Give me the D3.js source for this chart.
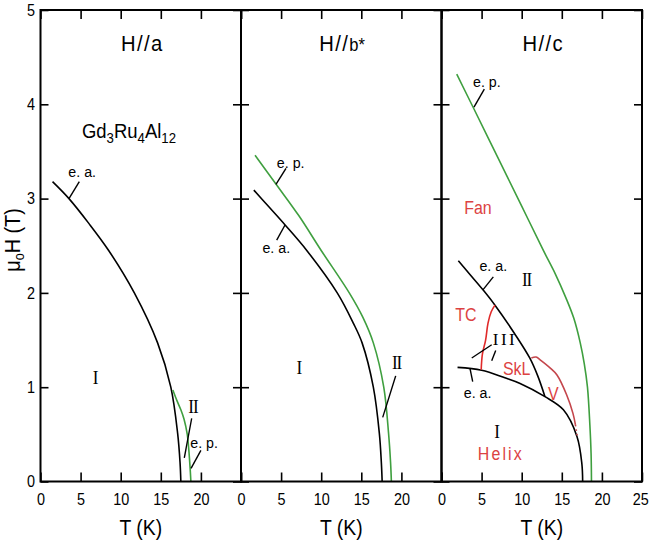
<!DOCTYPE html>
<html>
<head>
<meta charset="utf-8">
<script src="https://cdn.jsdelivr.net/npm/d3@7"></script>
<style>
  html, body { margin: 0; padding: 0; background: #fff; }
  svg { display: block; }
</style>
</head>
<body>
<svg id="chart" width="649" height="542"></svg>
<script>
// ---- axes ----
const tempTicks = [0, 5, 10, 15, 20, 25];
const fieldTicks = [0, 1, 2, 3, 4, 5];
const panelTitles = ["H//a", "H//b*", "H//c"];

// ---- H//a phase boundaries, [T (K), mu0H (T)] ----
const aEasyAxis = [[1.5,3.18],[3.55,3.0],[6.0,2.74],[8.5,2.45],[11.7,2.0],[14.6,1.47],[16.25,1.0],[17.1,0.51],[17.4,0.2],[17.5,0]];
const aEdgePoint = [[16.5,0.97],[17.0,0.86],[17.5,0.76],[17.9,0.66],[18.3,0.5],[18.46,0.37],[18.65,0.15],[18.75,0]];

// ---- H//b* phase boundaries ----
const bEasyAxis = [[1.6,3.09],[3.5,2.91],[5.5,2.72],[8.2,2.45],[12.0,2.0],[14.0,1.68],[15.1,1.47],[16.5,1.0],[17.25,0.51],[17.5,0.2],[17.6,0]];
const bEdgePoint = [[1.75,3.46],[4.4,3.15],[7.2,2.82],[10.0,2.45],[13.5,2.0],[15.2,1.74],[16.5,1.47],[17.8,1.0],[18.4,0.51],[18.65,0.2],[18.75,0]];

// ---- H//c phase boundaries ----
const cEdgePoint = [[1.9,4.32],[4.05,3.95],[7.0,3.44],[10.0,2.92],[12.7,2.45],[14.2,2.2],[15.5,1.95],[16.5,1.73],[17.3,1.47],[17.8,1.25],[18.2,1.0],[18.5,0.6],[18.65,0.3],[18.7,0]];
const cUpperEasy = [[2.1,2.34],[3.6,2.19],[5.2,2.03],[6.67,1.87],[9.1,1.57],[11.0,1.31],[12.0,1.12],[12.9,0.9]];
const cLowerEasy = [[2.0,1.21],[5.0,1.18],[7.9,1.1],[9.8,1.04],[12.9,0.9],[15.2,0.76],[16.9,0.475],[17.5,0.19],[17.6,0]];
const cTC = [[4.95,1.185],[5.1,1.35],[5.5,1.5],[5.8,1.68],[6.2,1.8],[6.67,1.87]];
const cV = [[11.2,1.31],[11.8,1.32],[12.3,1.29],[13.6,1.2],[14.4,1.13],[15.6,0.92],[16.4,0.72],[16.7,0.6]];
const cVTail = [[16.7,0.6],[16.95,0.47]];

// ---- annotations: text and leader lines, in data units ----
const aLabels = [
  {t: "e. a.", T: 5.2, H: 3.28, kind: "small"},
  {t: "I", T: 6.8, H: 1.10, kind: "roman"},
  {t: "II", T: 19.0, H: 0.80, kind: "roman"},
  {t: "e. p.", T: 20.4, H: 0.41, kind: "small"}
];
const aLeaders = [
  [[4.84,3.18],[3.55,3.0]],
  [[18.85,0.67],[17.93,0.25]],
  [[20.0,0.33],[18.77,0.14]]
];
const bLabels = [
  {t: "e. p.", T: 6.2, H: 3.38, kind: "small"},
  {t: "e. a.", T: 4.4, H: 2.48, kind: "small"},
  {t: "I", T: 7.2, H: 1.21, kind: "roman"},
  {t: "II", T: 19.4, H: 1.26, kind: "roman"}
];
const bLeaders = [
  [[5.61,3.32],[4.36,3.15]],
  [[5.49,2.72],[4.45,2.56]],
  [[19.29,1.12],[17.67,0.68]]
];
const cLabels = [
  {t: "e. p.", T: 5.65, H: 4.24, kind: "small"},
  {t: "Fan", T: 4.55, H: 2.91, kind: "phase"},
  {t: "e. a.", T: 6.46, H: 2.29, kind: "small"},
  {t: "II", T: 10.6, H: 2.14, kind: "roman"},
  {t: "TC", T: 3.05, H: 1.77, kind: "phase"},
  {t: "III", T: 7.92, H: 1.51, kind: "roman3"},
  {t: "SkL", T: 9.38, H: 1.20, kind: "phase"},
  {t: "V", T: 13.94, H: 0.93, kind: "phase"},
  {t: "e. a.", T: 4.5, H: 0.94, kind: "small"},
  {t: "I", T: 6.88, H: 0.53, kind: "roman"},
  {t: "Helix", T: 7.39, H: 0.30, kind: "helix"}
];
const cLeaders = [
  [[5.34,4.16],[4.05,3.97]],
  [[6.46,2.17],[5.14,2.03]],
  [[6.26,1.45],[3.77,1.31]],
  [[6.76,1.39],[6.26,1.28]],
  [[3.55,1.20],[3.89,1.06]]
];

// ---- layout ----
const svg = d3.select("#chart");
const sans = "'Liberation Sans', Arial, Helvetica, sans-serif";
const serif = "'Liberation Serif', 'Times New Roman', serif";
const GREEN = "#3f9f3f", BLACK = "#000", RED_TC = "#e02a2a", RED_V = "#c4464c", RED_TXT = "#dc4242";

const left0 = 40.5, panelW = 200.5, plotTop = 10, plotBottom = 481.5;
const y = d3.scaleLinear().domain([0, 5]).range([plotBottom, plotTop]);

function label(g, x, yy, s, o) {
  const t = g.append("text")
    .attr("transform", `translate(${x},${yy}) scale(${o.sx ?? 0.88},1)`)
    .attr("text-anchor", o.anchor || "middle")
    .attr("dy", "0.35em")
    .attr("font-family", o.family || sans)
    .attr("font-size", o.size)
    .attr("fill", o.fill || "#000")
    .text(s);
  if (o.ls) t.attr("letter-spacing", o.ls);
  return t;
}

const styles = {
  small: {size: 15, sx: 0.95},
  roman: {size: 19, family: serif, sx: 0.9, ls: -1.2},
  roman3: {size: 17, family: serif, sx: 1, ls: 2.5},
  phase: {size: 19, sx: 0.84, fill: RED_TXT},
  helix: {size: 19, sx: 0.84, fill: RED_TXT, ls: 2.5}
};

const panels = [
  {curves: [{d: aEasyAxis, c: BLACK}, {d: aEdgePoint, c: GREEN}], labels: aLabels, leaders: aLeaders, xLabels: [0,5,10,15,20]},
  {curves: [{d: bEasyAxis, c: BLACK}, {d: bEdgePoint, c: GREEN}], labels: bLabels, leaders: bLeaders, xLabels: [0,5,10,15,20]},
  {curves: [{d: cEdgePoint, c: GREEN}, {d: cUpperEasy, c: BLACK}, {d: cLowerEasy, c: BLACK},
            {d: cTC, c: RED_TC}, {d: cV, c: RED_V}, {d: cVTail, c: RED_V, dash: "1.5,3"}],
   labels: cLabels, leaders: cLeaders, xLabels: [0,5,10,15,20,25]}
];

panels.forEach((p, i) => {
  const x0 = left0 + i * panelW;
  const x = d3.scaleLinear().domain([0, 25]).range([x0, x0 + panelW]);
  const g = svg.append("g");

  // phase boundary curves
  const line = d3.line().x(d => x(d[0])).y(d => y(d[1])).curve(d3.curveCatmullRom.alpha(0.5));
  p.curves.forEach(c => {
    g.append("path").attr("d", line(c.d)).attr("fill", "none")
      .attr("stroke", c.c).attr("stroke-width", 1.6)
      .attr("stroke-dasharray", c.dash || null);
  });

  // leader lines
  p.leaders.forEach(l => {
    g.append("line")
      .attr("x1", x(l[0][0])).attr("y1", y(l[0][1]))
      .attr("x2", x(l[1][0])).attr("y2", y(l[1][1]))
      .attr("stroke", "#000").attr("stroke-width", 1.4);
  });

  // region and boundary labels
  p.labels.forEach(lb => label(g, x(lb.T), y(lb.H), lb.t, styles[lb.kind]));

  // inward ticks on all four sides
  const fmtX = d => p.xLabels.includes(d) ? d : "";
  const bAxis = g.append("g").attr("transform", `translate(0,${plotBottom})`)
    .call(d3.axisBottom(x).tickValues(tempTicks).tickSize(-9).tickPadding(12).tickFormat(fmtX));
  const tAxis = g.append("g").attr("transform", `translate(0,${plotTop})`)
    .call(d3.axisTop(x).tickValues(tempTicks).tickSize(-9).tickFormat(""));
  const lAxis = g.append("g").attr("transform", `translate(${x0},0)`)
    .call(d3.axisLeft(y).tickValues(fieldTicks).tickSize(-8).tickPadding(6).tickFormat(i === 0 ? d3.format("d") : ""));
  const rAxis = g.append("g").attr("transform", `translate(${x0 + panelW},0)`)
    .call(d3.axisRight(y).tickValues(fieldTicks).tickSize(-8).tickFormat(""));
  [bAxis, tAxis, lAxis, rAxis].forEach(a => {
    a.select(".domain").remove();
    a.selectAll(".tick line").attr("stroke", "#000").attr("stroke-width", 1.6);
    a.selectAll(".tick text").attr("font-family", sans).attr("font-size", 16).attr("fill", "#000");
  });
  bAxis.selectAll(".tick text").attr("transform", "scale(0.9,1)")
    .filter(d => d === 25).attr("x", -2);
  lAxis.selectAll(".tick text").attr("transform", "scale(0.9,1)");

  // frame
  g.append("rect").attr("x", x0).attr("y", plotTop).attr("width", panelW).attr("height", plotBottom - plotTop)
    .attr("fill", "none").attr("stroke", "#000").attr("stroke-width", 2);

  // panel title
  const title = label(g, x(12.6), y(4.65), "", {size: 22, sx: 0.92});
  const parts = panelTitles[i].match(/^(H\/\/)(.*)$/);
  title.append("tspan").attr("letter-spacing", 1.5).text(parts[1]);
  title.append("tspan").attr("font-size", parts[2] === "b*" ? 18 : 22).text(parts[2]);

  // x-axis title
  label(g, x(12.5), 527, "T (K)", {size: 22, sx: 0.88});

  if (i === 0) {
    // compound name with subscripts
    const cmp = g.append("text")
      .attr("transform", `translate(${x(5.17)},${y(3.64)}) scale(0.88,1)`)
      .attr("font-family", sans).attr("font-size", 21).attr("fill", "#000");
    [["Gd",0],["3",1],["Ru",0],["4",1],["Al",0],["12",1]].forEach(([s, sub]) => {
      cmp.append("tspan").attr("font-size", sub ? 15 : 21)
        .attr("dy", sub ? 5 : -5).text(s);
    });
    cmp.select("tspan").attr("dy", 0);
  }
});

// y-axis title
const yt = svg.append("text")
  .attr("transform", `translate(20,240) rotate(-90) scale(0.9,1)`)
  .attr("text-anchor", "middle").attr("font-family", sans).attr("font-size", 22).attr("fill", "#000");
yt.append("tspan").text("\u03bc");
yt.append("tspan").attr("font-size", 14).attr("dy", 4).text("o");
yt.append("tspan").attr("dy", -4).text("H (T)");
</script>
</body>
</html>
